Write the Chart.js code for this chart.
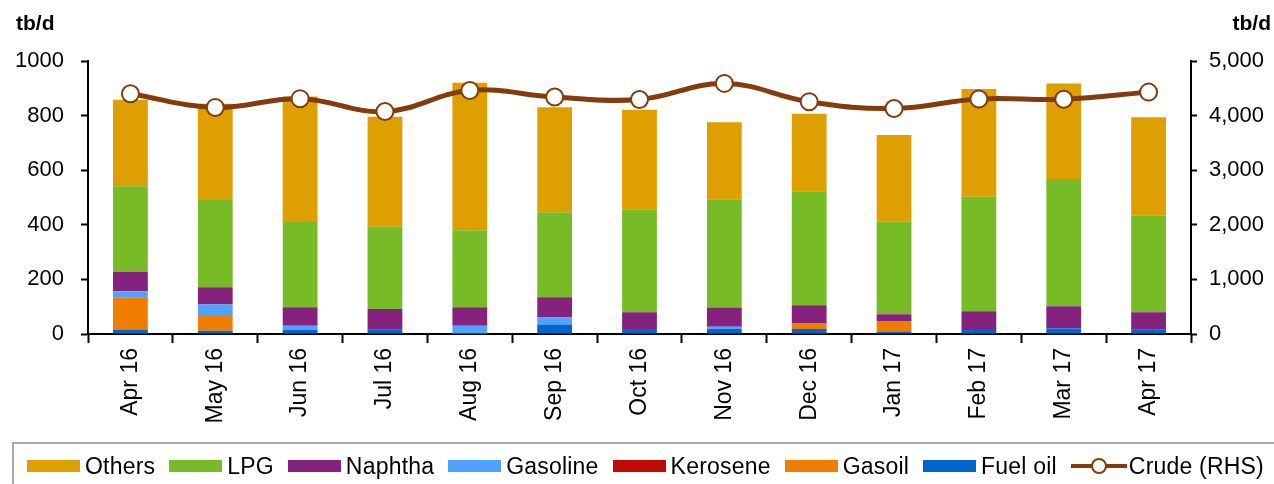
<!DOCTYPE html>
<html>
<head>
    <title>Exports by product</title>
    <style>
        body {
            margin: 0;
            padding: 0;
            background-color: #ffffff;
            font-family: "Liberation Sans", Arial, sans-serif;
        }

        .wrap {
            position: relative;
            width: 1274px;
            height: 484px;
            overflow: hidden;
        }

        /* Legend box along the bottom, cut off at the right like the original */
        #legend {
            position: absolute;
            left: 12px;
            top: 442px;
            width: 1300px;
            height: 60px;
            border: 2px solid #aaaaaa;
            box-sizing: border-box;
            display: flex;
            align-items: center;
            padding: 0 0 12px 13px;
            font-size: 23px;
            letter-spacing: 0.2px;
            color: #000;
        }

        #legend .item {
            display: flex;
            align-items: center;
            margin-right: 14px;
        }

        #legend .swatch {
            display: inline-block;
            width: 53px;
            height: 12px;
            margin-right: 5px;
        }

        #legend .crude {
            position: relative;
            display: inline-block;
            width: 56px;
            height: 16px;
            margin-right: 2px;
        }

        #legend .crude .bar {
            position: absolute;
            left: 0;
            right: 0;
            top: 6px;
            height: 4px;
            background: #843c0c;
        }

        #legend .crude .dot {
            position: absolute;
            left: 20px;
            top: 0;
            width: 12px;
            height: 12px;
            border: 2px solid #843c0c;
            border-radius: 50%;
            background: #ffffff;
        }
    </style>
    <script src="https://cdn.jsdelivr.net/npm/chart.js"></script>
</head>
<body>
<div class="wrap">
    <canvas id="myChart" width="1274" height="484"></canvas>
    <div id="legend"></div>
</div>
<script>
    // Data (tb/d, crude on right axis)
    const months = ['Apr 16', 'May 16', 'Jun 16', 'Jul 16', 'Aug 16', 'Sep 16', 'Oct 16',
        'Nov 16', 'Dec 16', 'Jan 17', 'Feb 17', 'Mar 17', 'Apr 17'];

    const fuelOil  = [15, 12, 16, 16, 2, 35, 18, 18, 18, 9, 15, 20, 16];
    const gasoil   = [120, 54, 0, 0, 0, 0, 0, 0, 22, 39, 0, 0, 0];
    const kerosene = [0, 0, 0, 0, 0, 0, 0, 0, 0, 0, 0, 0, 0];
    const gasoline = [22, 42, 14, 0, 28, 25, 0, 9, 0, 0, 0, 0, 0];
    const naphtha  = [70, 63, 68, 76, 68, 75, 62, 70, 65, 24, 68, 82, 64];
    const lpg      = [314, 320, 312, 301, 282, 311, 375, 397, 418, 339, 420, 466, 353];
    const others   = [317, 352, 460, 403, 540, 385, 366, 282, 284, 318, 394, 350, 361];
    const crude    = [4400, 4150, 4310, 4075, 4460, 4340, 4295, 4590, 4255, 4130, 4305, 4300, 4430];

    const leftTicks = [0, 200, 400, 600, 800, 1000];
    const rightTicks = [0, 1000, 2000, 3000, 4000, 5000];

    const yFont = { family: '"Liberation Sans", Arial, sans-serif', size: 22 };
    const xFont = { family: '"Liberation Sans", Arial, sans-serif', size: 23 };

    function barSet(label, data, color) {
        return {
            type: 'bar',
            label: label,
            data: data,
            backgroundColor: color,
            borderWidth: 0,
            stack: 'prod',
            yAxisID: 'y',
            order: 1,
            barPercentage: 0.41,
            categoryPercentage: 1.0
        };
    }

    // stacked bottom to top
    const datasets = [
        barSet('Fuel oil', fuelOil, '#0066cc'),
        barSet('Gasoil', gasoil, '#ee7d00'),
        barSet('Kerosene', kerosene, '#c00c00'),
        barSet('Gasoline', gasoline, '#4da3ff'),
        barSet('Naphtha', naphtha, '#84227e'),
        barSet('LPG', lpg, '#77bb26'),
        barSet('Others', others, '#dda000'),
        {
            type: 'line',
            label: 'Crude (RHS)',
            data: crude,
            yAxisID: 'y2',
            order: 0,
            borderColor: '#843c0c',
            borderWidth: 5,
            tension: 0.4,
            pointRadius: 8.5,
            pointBackgroundColor: '#ffffff',
            pointBorderColor: '#843c0c',
            pointBorderWidth: 2
        }
    ];

    // unit labels above both axes
    const unitLabels = {
        id: 'unitLabels',
        afterDraw(chart) {
            const c = chart.ctx;
            c.save();
            c.fillStyle = '#000';
            c.font = 'bold 21px "Liberation Sans", Arial, sans-serif';
            c.textBaseline = 'middle';
            c.textAlign = 'left';
            c.fillText('tb/d', 16, 24);
            c.textAlign = 'right';
            c.fillText('tb/d', 1271, 24);
            c.restore();
        }
    };

    const ctx = document.getElementById('myChart').getContext('2d');
    const myChart = new Chart(ctx, {
        data: { labels: months, datasets: datasets },
        plugins: [unitLabels],
        options: {
            responsive: false,
            animation: false,
            layout: { padding: { top: 61, left: 0, right: 0, bottom: 0 } },
            plugins: {
                legend: { display: false },
                tooltip: { enabled: false }
            },
            scales: {
                x: {
                    stacked: true,
                    offset: true,
                    afterFit(s) { s.height = 150; },
                    grid: {
                        offset: true,
                        drawOnChartArea: false,
                        drawTicks: true,
                        tickLength: 9,
                        tickWidth: 2,
                        tickColor: '#000'
                    },
                    border: { display: true, color: '#000', width: 2 },
                    ticks: {
                        color: '#000',
                        font: xFont,
                        minRotation: 90,
                        maxRotation: 90,
                        autoSkip: false,
                        padding: 5
                    }
                },
                y: {
                    position: 'left',
                    stacked: true,
                    min: 0,
                    max: 1000,
                    afterFit(s) { s.width = 88; },
                    afterBuildTicks(s) { s.ticks = leftTicks.map(v => ({ value: v })); },
                    grid: {
                        drawOnChartArea: false,
                        drawTicks: true,
                        tickLength: 7,
                        tickWidth: 2,
                        tickColor: '#000'
                    },
                    border: { display: true, color: '#000', width: 2 },
                    ticks: {
                        color: '#000',
                        font: yFont,
                        padding: 17,
                        callback: v => String(v)
                    }
                },
                y2: {
                    position: 'right',
                    min: 0,
                    max: 5000,
                    afterFit(s) { s.width = 83; },
                    afterBuildTicks(s) { s.ticks = rightTicks.map(v => ({ value: v })); },
                    grid: {
                        drawOnChartArea: false,
                        drawTicks: true,
                        tickLength: 6,
                        tickWidth: 2,
                        tickColor: '#000'
                    },
                    border: { display: true, color: '#000', width: 2 },
                    ticks: {
                        color: '#000',
                        font: yFont,
                        padding: 12,
                        callback: v => v.toLocaleString('en-US')
                    }
                }
            }
        }
    });

    // HTML legend built from the chart's datasets: Others first, crude last
    const legendEl = document.getElementById('legend');
    const barSets = myChart.data.datasets.filter(d => d.type === 'bar').reverse();
    const lineSets = myChart.data.datasets.filter(d => d.type === 'line');
    barSets.concat(lineSets).forEach(d => {
        const item = document.createElement('div');
        item.className = 'item';
        if (d.type === 'line') {
            item.innerHTML = '<span class="crude"><span class="bar"></span><span class="dot"></span></span>';
        } else {
            item.innerHTML = '<span class="swatch" style="background:' + d.backgroundColor + '"></span>';
        }
        const txt = document.createElement('span');
        txt.textContent = d.label;
        item.appendChild(txt);
        legendEl.appendChild(item);
    });
</script>
</body>
</html>
